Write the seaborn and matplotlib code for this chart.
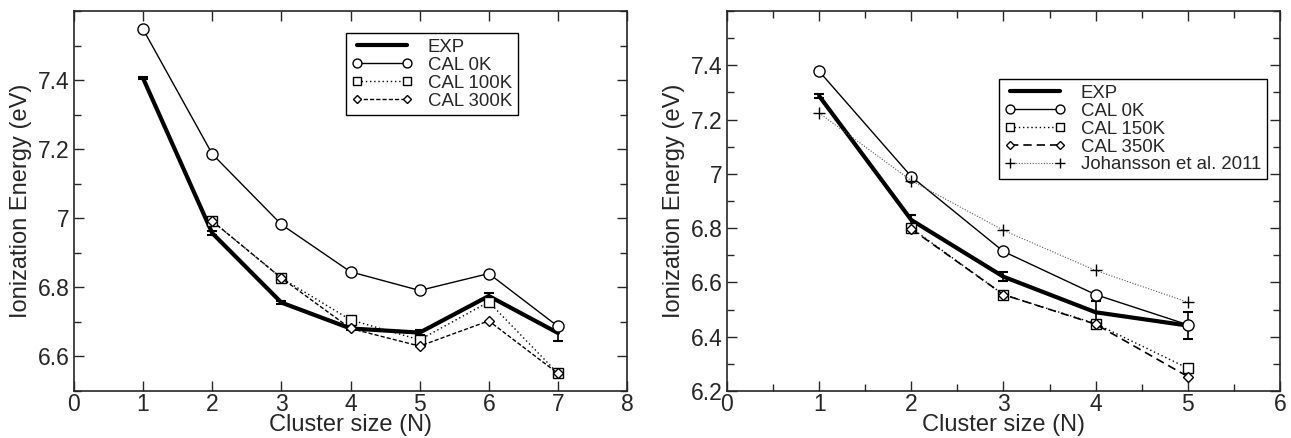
import numpy as np
import pandas as pd
import matplotlib
matplotlib.use("Agg")
import matplotlib.pyplot as plt
from matplotlib.ticker import FuncFormatter, MultipleLocator, FixedLocator
import seaborn as sns

# Left panel data
n_left = [1, 2, 3, 4, 5, 6, 7]
exp_left = [7.405, 6.957, 6.756, 6.681, 6.669, 6.775, 6.668]
exp_left_err = [0.003, 0.006, 0.004, 0.004, 0.008, 0.010, 0.023]
cal0_left = [7.547, 7.186, 6.982, 6.845, 6.791, 6.840, 6.687]
n_left_t = [2, 3, 4, 5, 6, 7]
cal100_left = [6.992, 6.827, 6.706, 6.648, 6.758, 6.551]
cal300_left = [6.992, 6.827, 6.681, 6.630, 6.703, 6.551]

# Right panel data
n_right = [1, 2, 3, 4, 5]
exp_right = [7.287, 6.830, 6.621, 6.490, 6.441]
exp_right_err = [0.008, 0.018, 0.017, 0.040, 0.050]
cal0_right = [7.378, 6.990, 6.714, 6.555, 6.444]
n_right_t = [2, 3, 4, 5]
cal150_right = [6.800, 6.555, 6.448, 6.284]
cal350_right = [6.797, 6.555, 6.446, 6.253]
joh_right = [7.224, 6.975, 6.792, 6.644, 6.527]

sns.set_style("ticks")
plt.rcParams["font.family"] = ["Liberation Sans", "DejaVu Sans"]
plt.rcParams["axes.linewidth"] = 1.2

fig = plt.figure(figsize=(12.91, 4.38), dpi=100)
ax1 = fig.add_axes([0.0573, 0.1073, 0.4284, 0.8676])
ax2 = fig.add_axes([0.5631, 0.1073, 0.4284, 0.8676])

fmt = FuncFormatter(lambda v, p: f"{v:g}")
mk = dict(markerfacecolor="white", markeredgecolor="black", markeredgewidth=1.0)


def exp_line(ax, x, y, err):
    sns.lineplot(x=x, y=y, ax=ax, color="black", linewidth=3.0, label="EXP")
    ax.errorbar(x, y, yerr=err, fmt="none", ecolor="black", elinewidth=1.2,
                capsize=3.5, capthick=1.5)


# left
exp_line(ax1, n_left, exp_left, exp_left_err)
sns.lineplot(x=n_left, y=cal0_left, ax=ax1, color="black", linewidth=1.0,
             marker="o", markersize=8, label="CAL 0K", **mk)
sns.lineplot(x=n_left_t, y=cal100_left, ax=ax1, color="black", linewidth=1.0,
             linestyle=(0, (1, 2)), marker="s", markersize=6.5, label="CAL 100K", **mk)
sns.lineplot(x=n_left_t, y=cal300_left, ax=ax1, color="black", linewidth=1.0,
             linestyle=(0, (3, 1.5)), marker="D", markersize=5.5, label="CAL 300K", **mk)

# right
exp_line(ax2, n_right, exp_right, exp_right_err)
sns.lineplot(x=n_right, y=cal0_right, ax=ax2, color="black", linewidth=1.0,
             marker="o", markersize=8, label="CAL 0K", **mk)
sns.lineplot(x=n_right_t, y=cal150_right, ax=ax2, color="black", linewidth=1.0,
             linestyle=(0, (1, 2)), marker="s", markersize=6.5, label="CAL 150K", **mk)
sns.lineplot(x=n_right_t, y=cal350_right, ax=ax2, color="black", linewidth=1.2,
             linestyle=(0, (5, 3)), marker="D", markersize=5.5, label="CAL 350K", **mk)
sns.lineplot(x=n_right, y=joh_right, ax=ax2, color="#555555", linewidth=0.8,
             linestyle=(0, (1, 1.5)), marker="+", markersize=9,
             markeredgecolor="black", markeredgewidth=1.0, label="Johansson et al. 2011")

ax1.set_xlim(0, 8)
ax1.set_ylim(6.5, 7.6)
ax1.yaxis.set_major_locator(FixedLocator([6.6, 6.8, 7.0, 7.2, 7.4]))
ax1.yaxis.set_minor_locator(MultipleLocator(0.1))
ax1.xaxis.set_major_locator(MultipleLocator(1))

ax2.set_xlim(0, 6)
ax2.set_ylim(6.2, 7.6)
ax2.yaxis.set_major_locator(FixedLocator([6.2, 6.4, 6.6, 6.8, 7.0, 7.2, 7.4]))
ax2.yaxis.set_minor_locator(MultipleLocator(0.1))
ax2.xaxis.set_major_locator(MultipleLocator(1))
ax2.xaxis.set_minor_locator(MultipleLocator(0.5))

for ax in (ax1, ax2):
    ax.xaxis.set_major_formatter(fmt)
    ax.yaxis.set_major_formatter(fmt)
    ax.tick_params(which="both", direction="in", top=True, right=True,
                   labelsize=16.5, width=1.0)
    ax.tick_params(axis="x", which="both", pad=1.5)
    ax.tick_params(axis="y", which="both", pad=3)
    ax.tick_params(which="major", length=7)
    ax.tick_params(which="minor", length=5)
    for s in ax.spines.values():
        s.set_visible(True)
        s.set_linewidth(1.2)
    ax.set_xlabel("Cluster size (N)", fontsize=17, labelpad=-1.5)
    ax.set_ylabel("Ionization Energy (eV)", fontsize=17, labelpad=4)

leg_kw = dict(numpoints=2, frameon=True, fancybox=False, fontsize=13.4,
              edgecolor="black", handlelength=3.3, handletextpad=0.8,
              borderpad=0.3, labelspacing=0.05, borderaxespad=0, markerscale=0.8)
l1 = ax1.legend(loc="upper left", bbox_to_anchor=(0.492, 0.942), **leg_kw)
l2 = ax2.legend(loc="upper left", bbox_to_anchor=(0.492, 0.821), **leg_kw)
for lg in (l1, l2):
    lg.get_frame().set_linewidth(1.0)
    lg.get_frame().set_alpha(1)

fig.savefig("out.png", dpi=100)
